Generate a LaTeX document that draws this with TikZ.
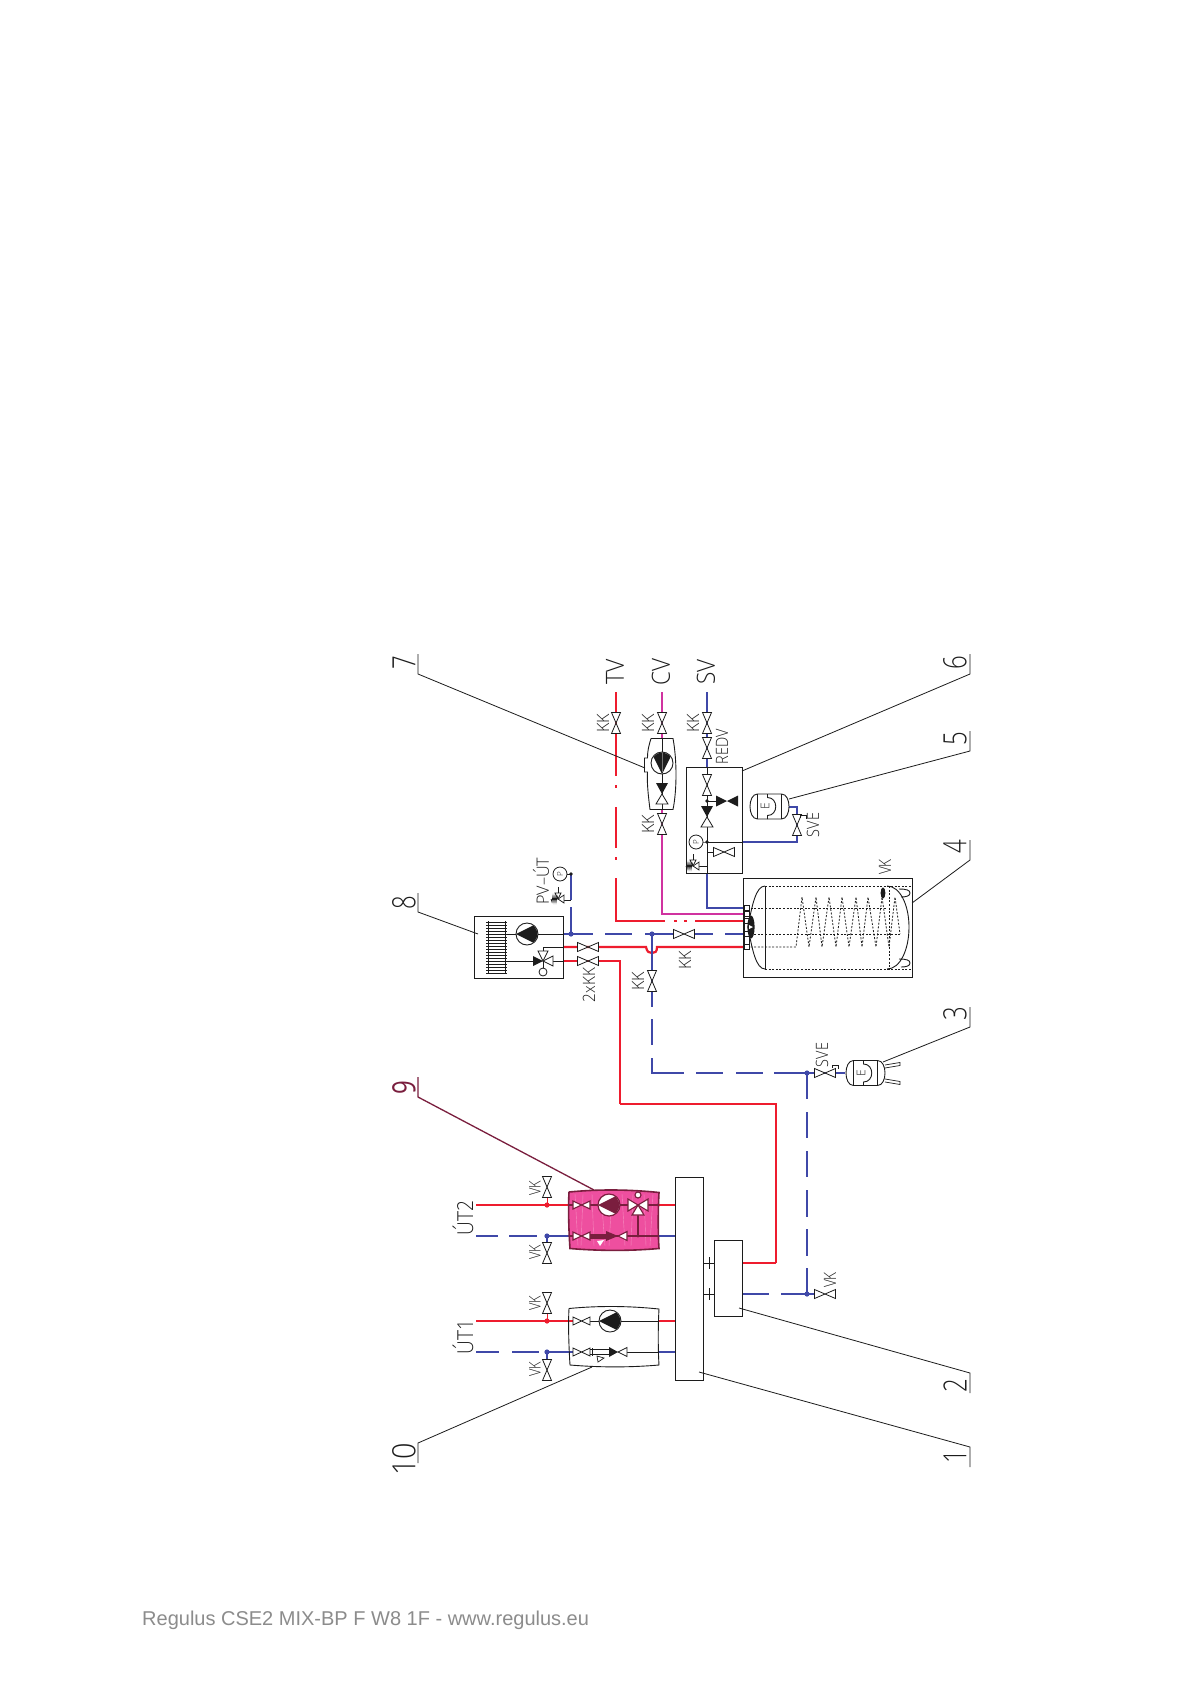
\documentclass[tikz,border=0pt]{standalone}
\usepackage{fontspec}
\newfontfamily\cadfont[UprightFont={* Light}]{Open Sans}
\newfontfamily\cadreg{Open Sans}
\newfontfamily\footfont{Liberation Sans}
\definecolor{pred}{HTML}{EE1C2E}
\definecolor{pblue}{HTML}{3F48A8}
\definecolor{pmag}{HTML}{D032A0}
\definecolor{ink}{HTML}{1C1C1C}
\definecolor{maroon}{HTML}{7A1E3E}
\definecolor{pinkb}{HTML}{EE4F9F}
\definecolor{pinkl}{HTML}{F68CC0}
\definecolor{footg}{HTML}{8C8C8C}
\newcommand{\cadtext}[3]{\fontsize{#1}{#1}\selectfont\cadfont\scalebox{#2}[1]{#3}}
\tikzset{
  redp/.style={draw=pred,line width=2.2pt},
  redthin/.style={draw=pred,line width=1.7pt},
  bluep/.style={draw=pblue,line width=2.2pt},
  magp/.style={draw=pmag,line width=2.2pt},
  blk/.style={draw=ink,line width=.9pt},
  mar/.style={draw=maroon,line width=1.4pt},
  lead/.style={draw=ink,line width=.8pt},
  tdash/.style={draw=ink,line width=.8pt,dash pattern=on 2pt off 1.6pt},
  lab/.style={rotate=90,inner sep=0pt,text=ink},
  vv/.pic={\draw[draw=ink,line width=.8pt,fill=white] (-4.5,-10.5)--(4.5,-10.5)--(-4.5,10.5)--(4.5,10.5)--cycle;},
  vh/.pic={\draw[draw=ink,line width=.8pt,fill=white] (-10.5,-4.5)--(-10.5,4.5)--(10.5,-4.5)--(10.5,4.5)--cycle;},
  vhs/.pic={\draw[draw=ink,line width=.8pt,fill=white] (-8.5,-4)--(-8.5,4)--(8.5,-4)--(8.5,4)--cycle;},
  vhm/.pic={\draw[draw=maroon,line width=1.1pt,fill=white] (-8.5,-4)--(-8.5,4)--(8.5,-4)--(8.5,4)--cycle;},
  vhalf/.pic={
    \fill[ink] (-6,-11)--(6,-11)--(0,0)--cycle;
    \draw[draw=ink,line width=.8pt,fill=white] (0,0)--(-6,10)--(6,10)--cycle;},
  vblack/.pic={\fill[ink] (-11,-5.5)--(-11,5.5)--(11,-5.5)--(11,5.5)--cycle;},
  pump/.pic={
    \draw[draw=ink,line width=.9pt,fill=white] (0,0) circle (11);
    \begin{scope}\clip (0,0) circle (10.4);
      \fill[ink] (-11,0)--(11,-11)--(11,11)--cycle;
    \end{scope}},
  pumpm/.pic={
    \draw[draw=maroon,line width=1.2pt,fill=white] (0,0) circle (11);
    \begin{scope}\clip (0,0) circle (10.4);
      \fill[maroon] (-11,0)--(11,-11)--(11,11)--cycle;
    \end{scope}},
  gauge/.pic={
    \draw[draw=ink,line width=.8pt,fill=white] (0,0) circle (7);
    \node[lab,font=\fontsize{8}{8}\selectfont\cadfont] (-t) at (0,0) {P};},
  safety/.pic={
    \draw[draw=ink,line width=.7pt,fill=white] (0,0)--(6,-4)--(6,4)--cycle;
    \draw[draw=ink,line width=.7pt,fill=white] (0,0)--(-3,-6)--(3,-6)--cycle;
    \draw[draw=ink,line width=.7pt] (0,-6)--(0,-12);
    \draw[draw=ink,line width=.8pt] (0,0)--(-1,-3)--(-2,3)--(-3,-3)--(-4,3)--(-5,-3)--(-6,3)--(-7,0);},
  vessel/.pic={
    \draw[draw=ink,line width=.9pt,fill=white] (-12,-12.5)--(12,-12.5) .. controls (22,-12.5) and (22,12.5) .. (12,12.5)--(-12,12.5) .. controls (-22,12.5) and (-22,-12.5) .. (-12,-12.5)--cycle;
    \draw[draw=ink,line width=.9pt] (-12,-12.5)--(-12,12.5) (12,-12.5)--(12,12.5);
    \draw[draw=ink,line width=.9pt] (-2,-12.5)--(-2,-9) .. controls (9,-9) and (9,9) .. (-2,9)--(-2,12.5);
    \node[lab,font=\fontsize{12}{12}\selectfont\cadfont] (-e) at (-4.5,0) {E};},
  lock/.pic={\draw[draw=ink,line width=.7pt] (-3,3)--(-3,0)--(3,0)--(3,4);},
}
\begin{document}
\begin{tikzpicture}[x=1pt,y=-1pt]
\useasboundingbox (0,0) rectangle (1192,1685);
\fill[white] (0,0) rectangle (1192,1685);
% ---- named junctions
\coordinate (tvtop) at (616,692); \coordinate (cvtop) at (662,692); \coordinate (svtop) at (707,692);
\coordinate (tvcorner) at (616,921); \coordinate (cvcorner) at (662,914); \coordinate (svcorner) at (707,908);
\coordinate (j8) at (571,934); \coordinate (jk) at (652,934); \coordinate (jsve) at (807,1073); \coordinate (jvk) at (807,1294);
% ---- pipes: hot water
\draw[redp] (tvtop)--(616,776) (616,785)--(616,788) (616,807)--(616,848) (616,857)--(616,860) (616,878)--(tvcorner)--(665,921) (674,921)--(677,921) (684,921)--(687,921) (695,921)--(743,921);
\draw[magp] (cvtop)--(662,738) (662,809)--(cvcorner)--(743,914);
\draw[bluep] (svtop)--(707,767) (707,873)--(svcorner)--(743,908);
\draw[bluep] (742,842)--(797,842)--(797,807)--(789,807);
% ---- main bus lines
\draw[bluep] (563,934)--(593,934) (605,934)--(632,934) (645,934)--(674,934) (695,934)--(713,934) (725,934)--(743,934);
\draw[bluep] (571,874)--(571,900) (571,907)--(j8);
\draw[redp] (563,947)--(646,947) .. controls (647,952) and (649,953) .. (652,953) .. controls (655,953) and (657,952) .. (657,947)--(743,947);
\draw[redp] (563,961)--(620,961)--(620,1104);
\draw[redthin] (620,1104)--(776,1104)--(776,1263);
\draw[redp] (776,1263)--(742,1263);
\draw[bluep] (jk)--(652,1007) (652,1019)--(652,1045) (652,1058)--(652,1073)--(684,1073) (696,1073)--(723,1073) (736,1073)--(763,1073) (774,1073)--(jsve)--(845,1073);
\draw[bluep] (jsve)--(807,1099) (807,1112)--(807,1138) (807,1151)--(807,1177) (807,1190)--(807,1217) (807,1229)--(807,1256) (807,1268)--(jvk);
\draw[bluep] (742,1294)--(769,1294) (781,1294)--(815,1294);
% ---- UT pipes
\draw[redp] (476,1205)--(569,1205) (659,1205)--(675,1205);
\draw[bluep] (476,1236)--(498,1236) (509,1236)--(537,1236) (545,1236)--(569,1236) (659,1236)--(675,1236);
\draw[redp] (476,1321)--(573,1321) (659,1321)--(675,1321);
\draw[bluep] (476,1352)--(499,1352) (512,1352)--(539,1352) (545,1352)--(573,1352) (659,1352)--(675,1352);
\draw[redp,line width=1pt] (547,1197)--(547,1205) (547,1313)--(547,1321);
\draw[bluep,line width=1.2pt] (547,1236)--(547,1243) (547,1352)--(547,1360);
% ---- dots
\fill[pblue] (j8) circle (2.6) (jk) circle (2.6) (jsve) circle (2.6) (jvk) circle (2.6) (547,1236) circle (2.6) (547,1352) circle (2.6);
\fill[pred] (547,1205) circle (2.6) (547,1321) circle (2.6);
\fill[ink] (571,874) circle (1.9);
% ---- boxes
\node[draw=ink,line width=.9pt,minimum width=89pt,minimum height=62pt,inner sep=0pt] (box8) at (518.5,947) {};
\node[draw=ink,line width=.9pt,minimum width=56pt,minimum height=106pt,inner sep=0pt] (box6) at (714,820) {};
\node[draw=ink,line width=.9pt,minimum width=169pt,minimum height=99pt,inner sep=0pt] (box4) at (827.5,927.5) {};
\node[draw=ink,line width=.9pt,minimum width=28pt,minimum height=203pt,inner sep=0pt] (box1) at (689,1278.5) {};
\node[draw=ink,line width=.9pt,minimum width=28pt,minimum height=76pt,inner sep=0pt] (box2) at (728,1278) {};
\draw[blk] (703,1263)--(714,1263) (709,1257)--(709,1269) (703,1294)--(714,1294) (709,1288)--(709,1300);
% ---- box 7
\draw[blk] (651,738.5)--(673,738.5) .. controls (677,760) and (677,790) .. (673,809.5)--(650,809.5) .. controls (647.5,790) and (647,780) .. (647.5,772)--(644.5,772)--(644.5,758)--(647.5,758) .. controls (647.5,750) and (649,745) .. (651,738.5);
\draw[blk] (662,738)--(662,809);
\pic[rotate=90] (p7) at (662,763) {pump};
\draw[draw=black!55,line width=.6pt] (662,753)--(662,772);
\pic (v7) at (662,794) {vhalf};
% ---- box 6 content
\draw[blk] (707,767)--(707,873);
\draw[blk] (707,842)--(742,842);
\draw[blk] (707,801)--(716,801) (707,852)--(714,852) (707,866)--(699,866);
\draw[draw=ink!60,line width=.8pt] (703,842)--(707,842);
\fill[ink] (707,801) circle (1.9) (707,842) circle (1.9);
\pic at (707,785) {vv};
\pic at (727,801) {vblack};
\pic at (707,817) {vhalf};
\pic at (724,852) {vh};
\pic (g6) at (696,842) {gauge};
\pic at (693,866) {safety};
\pic at (707,723) {vv};
\pic at (707,748) {vv};
% ---- vessel 5 and 3
\pic (e5) at (769.5,806.5) {vessel};
\pic at (797,825) {vv};
\pic at (803,815) {lock};
\pic (e3) at (865.5,1073) {vessel};
\pic at (825,1073) {vh};
\pic at (835,1065) {lock};
\draw[draw=ink,line width=.7pt] (885,1065)--(900,1062.5)--(900,1065.5)--(885,1068);
\draw[draw=ink,line width=.7pt] (885,1079)--(900,1081.5)--(900,1084.5)--(885,1082);
\pic at (825,1294) {vh};
% ---- tank
\draw[blk] (765,886) .. controls (756,886) and (752,905) .. (748,927) .. controls (752,949) and (756,969) .. (765,969);
\draw[blk] (765,886)--(765,969);
\draw[blk] (887,886) .. controls (900,886) and (909,905) .. (909,927) .. controls (909,950) and (900,969) .. (887,969);
\draw[tdash] (765,886.5)--(911,886.5)--(911,885);
\draw[tdash] (765,969)--(912,969);
\draw[tdash] (747,908)--(887,908);
\draw[tdash] (747,934)--(900,934);
\draw[tdash] (747,947)--(796,947)--(802,897)--(809,947)--(816,897)--(822,947)--(829,897)--(836,947)--(842,897)--(849,947)--(856,897)--(862,947)--(868,897)--(876,947)--(882,897)--(889,947)--(895,897)--(900,934);
\draw[tdash] (889,886)--(889,969);
\fill[ink] (883,893) ellipse (2.4 and 5.6);
\draw[blk] (899,889) .. controls (906,889) and (910,890) .. (910,893) .. controls (910,896) and (906,897) .. (901,897);
\draw[blk] (899,959) .. controls (906,959) and (910,960) .. (910,963) .. controls (910,966) and (906,967) .. (901,967);
\foreach \yy in {908,914,921,934,947}{\draw[draw=ink,line width=.7pt,fill=white] (744,\yy-2.5) rectangle (749,\yy+2.5);}
\draw[draw=ink,line width=.7pt] (744,906)--(744,950) (749,906)--(749,950);
\fill[ink] (751,927) ellipse (3.6 and 11.5);
\fill[white] (749,925)--(753,927)--(749,929)--cycle;
% ---- box 8 content
\foreach \yy in {922,925,...,973}{\draw[draw=ink,line width=.6pt] (486,\yy)--(507,\yy);}
\draw[draw=ink,line width=.7pt] (488,921)--(488,974) (505,921)--(505,974);
\draw[blk] (507,934)--(516,934) (538,934)--(563,934) (507,961)--(533,961) (553,961)--(563,961) (543,951)--(543,947)--(563,947);
\pic (p8) at (527,934) {pump};
\fill[ink] (533,956)--(533,966)--(543,961)--cycle;
\draw[draw=ink,line width=.8pt,fill=white] (553,956)--(553,966)--(543,961)--cycle;
\draw[draw=ink,line width=.8pt,fill=white] (538,951)--(548,951)--(543,961)--cycle;
\draw[draw=ink,line width=.8pt] (543,961)--(543,968);
\draw[draw=ink,line width=.8pt,fill=white] (543,972) circle (4);
\pic at (588,947) {vh};
\pic at (588,961) {vh};
\pic at (684,934) {vh};
\pic at (652,981) {vv};
\pic (g8) at (560,874) {gauge};
\draw[draw=ink,line width=.7pt] (567,874)--(571,874) (564,900)--(571,900);
\pic at (558,899) {safety};
% ---- TV / CV / SV valves
\pic at (616,723) {vv};
\pic at (662,723) {vv};
\pic at (662,824) {vv};
% ---- UT valves
\pic at (547,1187) {vv};
\pic at (547,1253) {vv};
\pic at (547,1303) {vv};
\pic at (547,1370) {vv};
% ---- box 10 (UT1)
\draw[blk] (569,1308.5) .. controls (600,1305.5) and (630,1306) .. (659,1309) .. controls (658,1325) and (658,1350) .. (659,1365) .. controls (630,1367.5) and (600,1367.5) .. (570,1365) .. controls (569,1350) and (568,1325) .. (569,1308.5);
\draw[blk] (590,1321)--(599,1321) (621,1321)--(659,1321) (627,1352)--(659,1352);
\pic at (581.5,1321) {vhs};
\pic (p10) at (610,1321) {pump};
\pic at (581.5,1352) {vhs};
\draw[draw=ink,line width=.7pt] (590,1349.5)--(609,1349.5) (590,1354.5)--(609,1354.5) (592,1348)--(592,1356);
\draw[draw=ink,line width=.7pt] (597,1356)--(604,1358)--(598,1362)--cycle;
\fill[ink] (609,1347)--(609,1357)--(618,1352)--cycle;
\draw[draw=ink,line width=.8pt,fill=white] (618,1352)--(627,1347.5)--(627,1356.5)--cycle;
% ---- box 9 (UT2)
\path[fill=pinkb] (569,1192) .. controls (600,1189) and (630,1189.5) .. (659,1192.5) .. controls (658,1210) and (658,1235) .. (659,1248.5) .. controls (630,1251) and (600,1251) .. (570,1248.5) .. controls (569,1235) and (568,1210) .. (569,1192);
\foreach \xx/\dd in {575/3,583/-2,592/2,601/4,612/-3,622/3,633/-2,644/2,653/-3}{\draw[draw=pinkl,line width=.4pt] (\xx,1194)--(\xx+\dd,1246);}
\draw[draw=maroon,line width=1.6pt] (569,1192) .. controls (600,1189) and (630,1189.5) .. (659,1192.5) .. controls (658,1210) and (658,1235) .. (659,1248.5) .. controls (630,1251) and (600,1251) .. (570,1248.5) .. controls (569,1235) and (568,1210) .. (569,1192);
\draw[mar] (569,1205)--(659,1205) (569,1236)--(659,1236) (638,1205)--(638,1236);
\pic at (581.5,1205) {vhm};
\pic (p9) at (609,1205) {pumpm};
\draw[draw=maroon,line width=1.1pt,fill=white] (628,1199)--(628,1211)--(638,1205)--cycle;
\draw[draw=maroon,line width=1.1pt,fill=white] (648,1199)--(648,1211)--(638,1205)--cycle;
\draw[draw=maroon,line width=1.1pt,fill=white] (632,1215)--(644,1215)--(638,1205)--cycle;
\draw[draw=maroon,line width=1.1pt,fill=white] (638,1195) circle (3);
\pic at (581.5,1236) {vhm};
\fill[maroon] (590,1233.5) rectangle (610,1238.5);
\fill[maroon] (606,1231)--(606,1241)--(618,1236)--cycle;
\fill[white] (597,1241)--(604,1240)--(600,1246)--cycle;
\draw[draw=maroon,line width=1.1pt,fill=white] (618,1236)--(627,1231.5)--(627,1240.5)--cycle;
\fill[maroon] (638,1236) circle (1.6);
% ---- leaders and numbers
\coordinate (t7) at (418,674); \coordinate (t8) at (418,912); \coordinate (t9) at (418,1097); \coordinate (t10) at (418,1443);
\coordinate (t6) at (970,674); \coordinate (t5) at (970,751); \coordinate (t4) at (970,860); \coordinate (t3) at (970,1027); \coordinate (t2) at (970,1373); \coordinate (t1) at (970,1447);
\draw[lead] (418,654)--(t7)--(645,768);
\draw[lead] (418,893)--(t8)--(478,934);
\draw[draw=maroon,line width=1.3pt] (418,1077)--(t9)--(594,1190);
\draw[lead] (418,1463)--(t10)--(592,1367);
\draw[lead] (970,654)--(t6)--(742,771);
\draw[lead] (970,731)--(t5)--(789,799);
\draw[lead] (970,840)--(t4)--(912,903);
\draw[lead] (970,1007)--(t3)--(883,1062);
\draw[lead] (970,1393)--(t2)--(739,1308);
\draw[lead] (970,1467)--(t1)--(699,1372);
\node[lab] (n7) at (404,662.5) {\cadtext{32}{.75}{7}};
\node[lab] (n8) at (404,902.5) {\cadtext{32}{.75}{8}};
\node[lab,text=maroon] (n9) at (404,1087.5) {\fontsize{32}{32}\selectfont\cadreg\scalebox{.75}[1]{9}};
\node[lab] (n10) at (404,1459.5) {\cadtext{32}{.9}{10}};
\node[lab] (n6) at (955,662.5) {\cadtext{32}{.75}{6}};
\node[lab] (n5) at (955,738.5) {\cadtext{32}{.75}{5}};
\node[lab] (n4) at (955,847) {\cadtext{32}{.75}{4}};
\node[lab] (n3) at (955,1014) {\cadtext{32}{.75}{3}};
\node[lab] (n2) at (955,1386) {\cadtext{32}{.75}{2}};
\node[lab] (n1) at (955,1457) {\cadtext{32}{.75}{1}};
% ---- labels
\node[lab] (ltv) at (615,672) {\cadtext{25}{.92}{TV}};
\node[lab] (lcv) at (661,672) {\cadtext{25}{.9}{CV}};
\node[lab] (lsv) at (706,672) {\cadtext{25}{.9}{SV}};
\node[lab] (lk1) at (603,723) {\cadtext{17}{.95}{KK}};
\node[lab] (lk2) at (648,723) {\cadtext{17}{.95}{KK}};
\node[lab] (lk3) at (693,723) {\cadtext{17}{.95}{KK}};
\node[lab] (lk4) at (648,824) {\cadtext{17}{.95}{KK}};
\node[lab] (lredv) at (722,747) {\cadtext{17}{.85}{REDV}};
\node[lab] (lpv) at (541,881) {\cadtext{17}{.95}{PV–ÚT}};
\node[lab] (l2kk) at (589,985) {\cadtext{17}{.9}{2xKK}};
\node[lab] (lk5) at (638,981) {\cadtext{17}{.95}{KK}};
\node[lab] (lk6) at (685,960) {\cadtext{17}{.95}{KK}};
\node[lab] (lsve5) at (813,825) {\cadtext{17}{.85}{SVE}};
\node[lab] (lvk4) at (885,867) {\cadtext{17}{.8}{VK}};
\node[lab] (lsve3) at (822,1055) {\cadtext{17}{.85}{SVE}};
\node[lab] (lvk2) at (830,1280) {\cadtext{17}{.8}{VK}};
\node[lab] (lut2) at (463,1218) {\cadtext{22}{.87}{ÚT2}};
\node[lab] (lut1) at (463,1337) {\cadtext{22}{.87}{ÚT1}};
\node[lab] (lvka) at (535,1188) {\cadtext{16}{.8}{VK}};
\node[lab] (lvkb) at (535,1252) {\cadtext{16}{.8}{VK}};
\node[lab] (lvkc) at (535,1303) {\cadtext{16}{.8}{VK}};
\node[lab] (lvkd) at (535,1369) {\cadtext{16}{.8}{VK}};
\node[inner sep=0pt,text=footg,anchor=west] (foot) at (142,1620) {\fontsize{20}{20}\selectfont\footfont Regulus CSE2 MIX-BP F W8 1F - www.regulus.eu};
\end{tikzpicture}
\end{document}
